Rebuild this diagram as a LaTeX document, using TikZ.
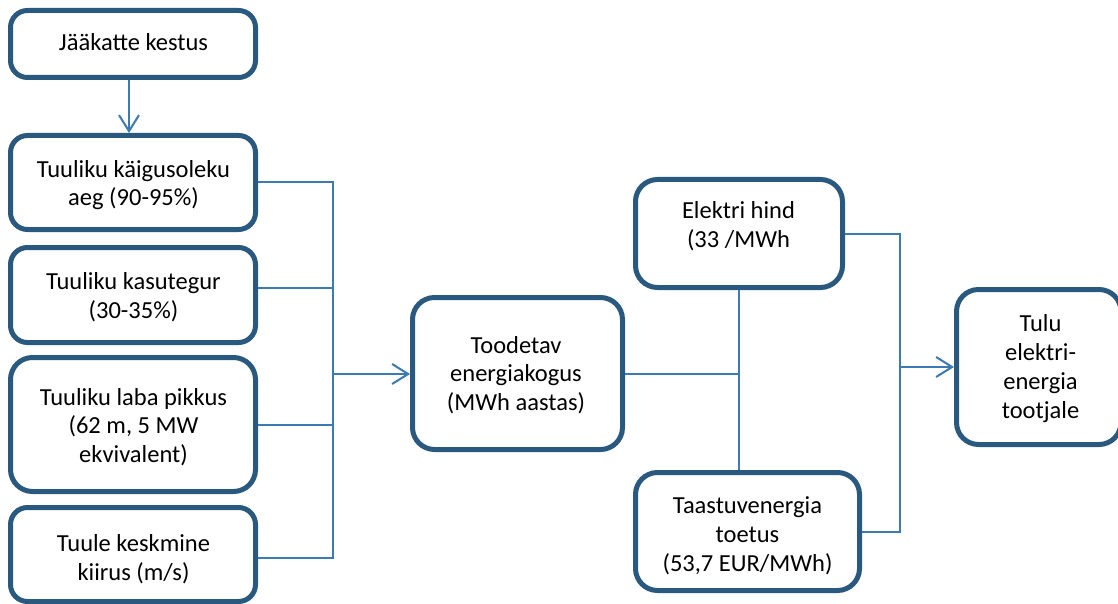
\documentclass[tikz,border=0pt]{standalone}
\usepackage{fontspec}
\setmainfont{Carlito}
\usetikzlibrary{arrows.meta}
\definecolor{boxblue}{RGB}{42,89,128}
\definecolor{linkblue}{RGB}{60,122,182}
\begin{document}
\begin{tikzpicture}[x=1pt,y=-1pt,
  box/.style={draw=boxblue,line width=5pt,rounded corners=17pt,inner sep=0pt,fill=white},
  bigbox/.style={box,rounded corners=22pt},
  lbl/.style={align=center,inner sep=0pt,font=\fontsize{24.5}{28.8}\selectfont},
  link/.style={draw=linkblue,line width=2pt},
  arr/.style={link,-{Straight Barb[length=16pt,width=20pt]}}]
\useasboundingbox (0,0) rectangle (1118,604);
\clip (0,0) rectangle (1118,604);

% input factors on the left
\node[box,minimum width=245pt,minimum height=67pt]  (b1) at (133,44) {};
\node[box,minimum width=245pt,minimum height=94pt]  (b2) at (133,182.5) {};
\node[box,minimum width=245pt,minimum height=95pt]  (b3) at (133,295) {};
\node[bigbox,minimum width=245pt,minimum height=134pt] (b4) at (133,424.5) {};
\node[box,minimum width=245pt,minimum height=94pt]  (b5) at (133,554.5) {};

% energy, prices and income
\node[bigbox,minimum width=210pt,minimum height=152pt] (en) at (517.5,373.5) {};
\node[bigbox,minimum width=207pt,minimum height=108pt] (hind) at (739,233.5) {};
\node[bigbox,minimum width=224pt,minimum height=118pt] (toetus) at (747.5,531.5) {};
\node[bigbox,minimum width=164.5pt,minimum height=155pt] (tulu) at (1038.75,367) {};

% box texts
\node[lbl] (t1) at (133.5,42) {Jääkatte kestus};
\node[lbl] (t2) at (133.5,185) {Tuuliku käigusoleku\\aeg (90-95\%)};
\node[lbl] (t3) at (133.5,297.5) {Tuuliku kasutegur\\(30-35\%)};
\node[lbl] (t4) at (133.5,427) {Tuuliku laba pikkus\\(62 m, 5 MW\\ekvivalent)};
\node[lbl] (t5) at (133.5,559) {Tuule keskmine\\kiirus (m/s)};
\node[lbl] (ten) at (516,375) {Toodetav\\energiakogus\\(MWh aastas)};
\node[lbl] (thind) at (738.5,226.5) {Elektri hind\\(33 /MWh};
\node[lbl] (ttoetus) at (747.5,535.5) {Taastuvenergia\\toetus\\(53,7 EUR/MWh)};
\node[lbl] (ttulu) at (1040.5,368.5) {Tulu\\elektri-\\energia\\tootjale};

% junction points
\coordinate (jL) at (333,374);
\coordinate (jR) at (900,367);
\coordinate (b3o) at ([yshift=7pt]b3.east);
\coordinate (b5o) at ([yshift=-3.5pt]b5.east);
\coordinate (b1o) at ([xshift=-4pt]b1.south);

% connectors
\draw[arr] (b1o) -- (b1o |- b2.north);
\draw[link] (b2.east) -| (jL);
\draw[link] (b3o) -- (b3o -| jL);
\draw[link] (b4.east) -- (b4.east -| jL);
\draw[link] (b5o) -| (jL);
\draw[arr] (jL) -- (jL -| en.west);
\draw[link] (hind.south) -- (hind.south |- toetus.north);
\draw[link] (en.east) -- (en.east -| hind.south);
\draw[link] (hind.east) -| (jR);
\draw[link] (toetus.east) -| (jR);
\draw[arr] (jR) -- (tulu.west);
\end{tikzpicture}
\end{document}
